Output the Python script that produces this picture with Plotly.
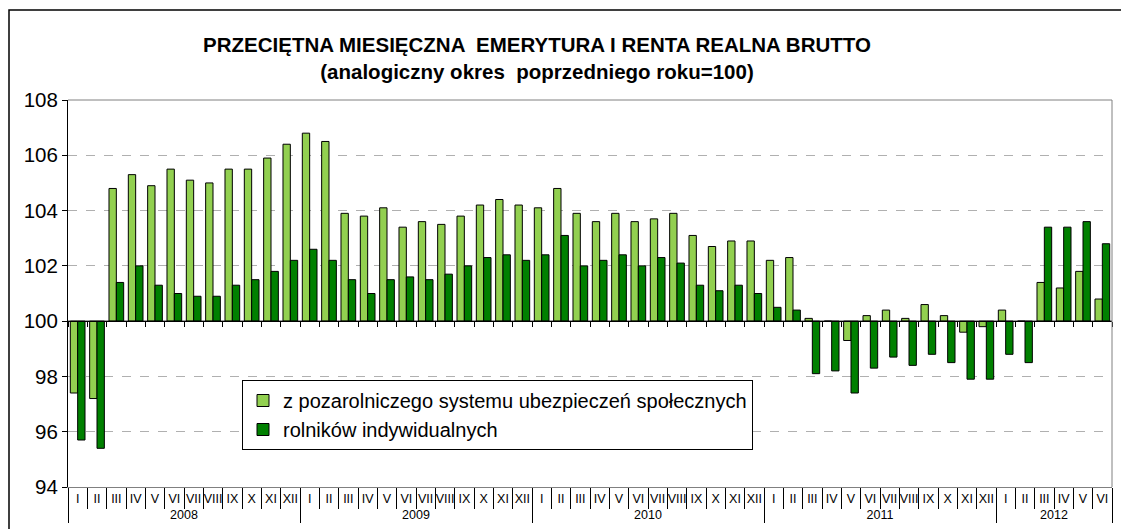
import plotly.graph_objects as go

years = ["2008"] * 12 + ["2009"] * 12 + ["2010"] * 12 + ["2011"] * 12 + ["2012"] * 6
roman = ["I", "II", "III", "IV", "V", "VI", "VII", "VIII", "IX", "X", "XI", "XII"]
months = roman * 4 + roman[:6]

pozarolniczy = [
    97.4, 97.2, 104.8, 105.3, 104.9, 105.5, 105.1, 105.0, 105.5, 105.5, 105.9, 106.4,
    106.8, 106.5, 103.9, 103.8, 104.1, 103.4, 103.6, 103.5, 103.8, 104.2, 104.4, 104.2,
    104.1, 104.8, 103.9, 103.6, 103.9, 103.6, 103.7, 103.9, 103.1, 102.7, 102.9, 102.9,
    102.2, 102.3, 100.1, 100.0, 99.3, 100.2, 100.4, 100.1, 100.6, 100.2, 99.6, 99.8,
    100.4, 100.0, 101.4, 101.2, 101.8, 100.8,
]
rolnicy = [
    95.7, 95.4, 101.4, 102.0, 101.3, 101.0, 100.9, 100.9, 101.3, 101.5, 101.8, 102.2,
    102.6, 102.2, 101.5, 101.0, 101.5, 101.6, 101.5, 101.7, 102.0, 102.3, 102.4, 102.2,
    102.4, 103.1, 102.0, 102.2, 102.4, 102.0, 102.3, 102.1, 101.3, 101.1, 101.3, 101.0,
    100.5, 100.4, 98.1, 98.2, 97.4, 98.3, 98.7, 98.4, 98.8, 98.5, 97.9, 97.9,
    98.8, 98.5, 103.4, 103.4, 103.6, 102.8,
]
series_names = ["z pozarolniczego systemu ubezpieczeń społecznych", "rolników indywidualnych"]
base_value = 100

FONT = "Liberation Sans, Arial, sans-serif"
OFF = 8  # page body margin
W, H = 1129 - OFF, 529 - OFF
L, R, T, B = 68 - OFF, 17, 100 - OFF, 42
PW, PH = W - L - R, H - T - B

fig = go.Figure()
for name, vals, color in [(series_names[0], pozarolniczy, "#92D050"),
                          (series_names[1], rolnicy, "#008000")]:
    fig.add_trace(go.Bar(
        x=[years, months],
        y=[v - base_value for v in vals],
        base=base_value,
        name=name,
        marker=dict(color=color, line=dict(color="black", width=1)),
        customdata=vals,
        hovertemplate="%{customdata}<extra></extra>",
    ))

n = len(months)
fig.add_trace(go.Scatter(x=[-0.5, n - 0.5], y=[base_value, base_value], xaxis="x2",
                         mode="lines", line=dict(color="black", width=1),
                         showlegend=False, hoverinfo="skip"))

ymin, ymax = 94, 108
fig.update_layout(
    width=W, height=H,
    margin=dict(l=L, r=R, t=T, b=B, autoexpand=False),
    paper_bgcolor="white", plot_bgcolor="white",
    barmode="group", bargap=0.24, bargroupgap=0,
    font=dict(family=FONT, color="black"),
    title=dict(
        text="<b>PRZECIĘTNA MIESIĘCZNA \u00a0EMERYTURA I RENTA REALNA BRUTTO<br>(analogiczny okres \u00a0poprzedniego roku=100)</b>",
        x=(537 - OFF) / W, xref="container", xanchor="center",
        y=1 - 44 / H, yref="container", yanchor="top",
        font=dict(size=20.5, family=FONT, color="black"),
    ),
    showlegend=True,
    legend=dict(
        x=(242 - 68) / PW, y=(487 - 380) / PH,
        xanchor="left", yanchor="top",
        bgcolor="white", bordercolor="black", borderwidth=1,
        font=dict(size=20, family=FONT),
        tracegroupgap=0, itemwidth=30,
    ),
    xaxis=dict(
        type="multicategory", automargin=False,
        showline=True, linecolor="#808080", linewidth=1,
        ticks="outside", tickson="boundaries", ticklen=21, tickcolor="black",
        dividercolor="black", dividerwidth=1,
        tickangle=0,
        tickfont=dict(size=12.5, family=FONT),
        showgrid=False, zeroline=False,
        range=[-0.5, n - 0.5],
    ),
    xaxis2=dict(
        overlaying="x", anchor="free", position=(base_value - ymin) / (ymax - ymin),
        range=[-0.5, n - 0.5], showline=True, linecolor="black",
        ticks="outside", ticklen=5, tickcolor="black",
        tickvals=[i - 0.5 for i in range(n + 1)],
        showticklabels=False, showgrid=False, zeroline=False,
    ),
    yaxis=dict(
        range=[ymin, ymax], dtick=2, tick0=94, automargin=False,
        showline=True, linecolor="black", linewidth=1,
        ticks="outside", ticklen=5, tickcolor="black",
        tickfont=dict(size=20.5, family=FONT),
        showgrid=True, gridcolor="#b0b0b0", griddash="dash", gridwidth=1,
        zeroline=False,
    ),
    shapes=[
        dict(type="line", xref="paper", yref="paper", x0=0, x1=1, y0=1, y1=1,
             line=dict(color="#808080", width=1)),
        dict(type="line", xref="paper", yref="paper", x0=1, x1=1, y0=0, y1=1,
             line=dict(color="#808080", width=1)),
        dict(type="rect", xref="paper", yref="paper",
             x0=(1 - L) / PW, x1=1.2,
             y0=-0.3, y1=(H - B - 2) / PH,
             line=dict(color="black", width=1.5), layer="below"),
    ],
)

fig.write_html("out.html")
